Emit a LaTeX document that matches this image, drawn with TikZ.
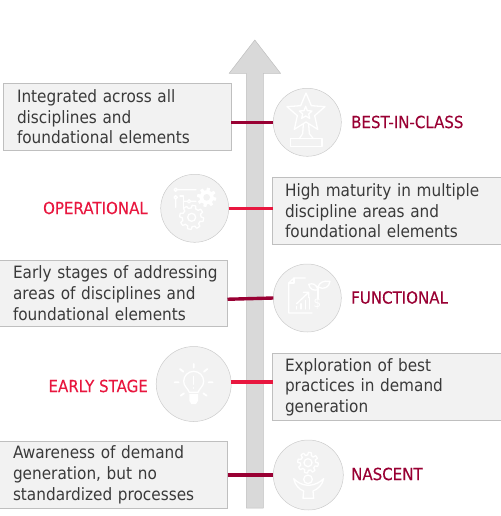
\documentclass[tikz,border=0pt]{standalone}
\usepackage{fontspec}
\setmainfont[FakeStretch=0.9]{DejaVu Sans}
\newfontfamily\stagefont[FakeStretch=0.9,FakeBold=0.25]{DejaVu Sans}
\definecolor{txt}{HTML}{3A3A3A}
\definecolor{dark}{HTML}{990033}
\definecolor{bright}{HTML}{E8173F}
\definecolor{pale}{HTML}{F2F2F2}
\definecolor{edge}{HTML}{BFBFBF}
\definecolor{shaft}{HTML}{D9D9D9}
\tikzset{
  infobox/.style={draw=edge,line width=0.8pt,fill=pale,text=txt,anchor=north west,
    minimum height=66.5pt,outer sep=0pt,inner ysep=0pt,inner xsep=0pt,align=left,
    font=\fontsize{17}{20.6}\selectfont},
  disc/.style={circle,draw=edge!80,line width=0.5pt,fill=pale,inner sep=0pt,outer sep=0pt},
  stage/.style={anchor=west,inner sep=0pt,font=\stagefont\fontsize{16.7}{18}\selectfont},
  link/.style={line width=3.4pt},
  icon/.style={draw=white,line width=1.3pt,line join=round,line cap=round},
  iconfill/.style={fill=white,draw=none},
}
% centre x, centre y, radius, tooth height, teeth, style
\newcommand{\gearshape}[6]{\path[#6] plot[samples=145,domain=0:360]
  ({#1+(#3+#4*max(-1,min(1,3*sin(#5*\x))))*cos(\x)},{#2+(#3+#4*max(-1,min(1,3*sin(#5*\x))))*sin(\x)}) -- cycle;}
\begin{document}
\begin{tikzpicture}[x=1pt,y=-1pt]
\useasboundingbox (0,0) rectangle (500,516);
% growth arrow
\path[fill=shaft,draw=edge,line width=0.5pt,line join=round]
  (246.3,508) -- (246.3,73.5) -- (229,73.5) -- (254.8,40) -- (280.7,73.5) -- (263.3,73.5) -- (263.3,508) -- cycle;
% text boxes
\node[infobox,minimum width=227.5pt,text width=227.5pt] (b1) at (3.5,83.5)
  {\hspace*{13.5pt}\parbox[c]{212pt}{Integrated across all\\disciplines and\\foundational elements}};
\node[infobox,minimum width=230pt,text width=230pt] (b2) at (272.5,177.7)
  {\hspace*{12.5pt}\parbox[c]{214pt}{High maturity in multiple\\discipline areas and\\foundational elements}};
\node[infobox,minimum width=228.5pt,text width=228.5pt] (b3) at (-1,260)
  {\hspace*{14pt}\parbox[c]{212pt}{Early stages of addressing\\areas of disciplines and\\foundational elements}};
\node[infobox,minimum width=230pt,text width=230pt] (b4) at (272.5,353.7)
  {\hspace*{12.5pt}\parbox[c]{214pt}{Exploration of best\\practices in demand\\generation}};
\node[infobox,minimum width=228.5pt,text width=228.5pt] (b5) at (-1,441.5)
  {\hspace*{14pt}\parbox[c]{212pt}{Awareness of demand\\generation, but no\\standardized processes}};
% discs
\node[disc,minimum size=68pt] (c1) at (307.3,122.3) {};
\node[disc,minimum size=68pt] (c2) at (194.7,208.3) {};
\node[disc,minimum size=68pt] (c3) at (307.3,298) {};
\node[disc,minimum size=75pt] (c4) at (193.7,384) {};
\node[disc,minimum size=70pt] (c5) at (308.3,475) {};
% connectors
\draw[link,dark] (b1.east |- c1.west) -- (c1.west);
\draw[link,bright] (c2.east) -- (b2.west |- c2.east);
\draw[link,dark] ([yshift=-6pt]b3.east) -- (c3.west);
\draw[link,bright] ([xshift=-0.5pt,yshift=2pt]c4.east) -- ([yshift=2pt]b4.west |- c4.east);
\draw[link,dark] (b5.east |- c5.west) -- (c5.west);
% stage labels
\node[stage,text=dark] (l1) at (351,122) {BEST-IN-CLASS};
\node[stage,text=bright,anchor=east] (l2) at (148,208) {OPERATIONAL};
\node[stage,text=dark] (l3) at (351,297.5) {FUNCTIONAL};
\node[stage,text=bright,anchor=east] (l4) at (148,386) {EARLY STAGE};
\node[stage,text=dark] (l5) at (351,474) {NASCENT};
% trophy
\begin{scope}[shift={(272,87)},scale=1/3]
  \draw[icon] (102,18)--(118,56)--(159,59)--(128,86)--(137,127)--(102,105)--(67,127)--(76,86)--(45,59)--(86,56)--cycle;
  \draw[icon] (101,58)--(106,71)--(120,72)--(110,81)--(113,94)--(101,87)--(89,94)--(92,81)--(82,72)--(96,71)--cycle;
  \draw[icon] (94,112)--(92,140)--(82,155) (110,112)--(112,140)--(124,155);
  \draw[icon] (55,155) rectangle (150,178);
\end{scope}
% gears and circuit
\begin{scope}[shift={(160,174)},scale=1/3]
  \gearshape{140}{70}{25}{4}{8}{iconfill}
  \fill[pale] (140,70) circle (10);
  \gearshape{95}{130}{32}{4}{8}{icon}
  \draw[icon] (95,130) circle (12);
  \draw[icon] (47,47) circle (5) (52,47)--(108,47);
  \draw[icon] (47,70) circle (5) (47,75)--(47,100);
  \draw[icon] (87,82) circle (5) (92,82)--(108,82) (82,82)--(70,82);
  \draw[icon] (60,66)--(70,66)--(70,104);
\end{scope}
% growth document
\begin{scope}[shift={(272,263)},scale=1/3]
  \draw[icon] (100,45)--(66,45)--(50,60)--(50,150)--(120,150);
  \draw[icon] (66,45)--(66,60)--(50,60);
  \draw[icon] (74,122)--(110,88) (94,88)--(110,88)--(110,104);
  \draw[icon] (74,138)--(74,130) (87,138)--(87,122) (100,138)--(100,112) (113,138)--(113,104);
  \draw[icon] (138,108)--(138,70);
  \draw[icon] (138,80) .. controls (132,62) and (122,60) .. (110,64) .. controls (114,80) and (126,84) .. (138,80);
  \draw[icon] (138,72) .. controls (142,58) and (155,52) .. (174,55) .. controls (172,72) and (156,82) .. (138,72);
  \node[text=white,inner sep=0pt,font=\fontsize{13}{13}\selectfont] (dollar) at (136,123) {\$};
\end{scope}
% light bulb
\begin{scope}[shift={(158,349)},scale=1/3]
  \draw[icon] (94,130) .. controls (90,118) and (77,112) .. (77,97) arc[start angle=180,end angle=360,radius=30] .. controls (137,112) and (124,118) .. (120,130) -- cycle;
  \path[iconfill] (94,135) -- (120,135) -- (120,155) -- (114,165) -- (100,165) -- (94,155) -- cycle;
  \draw[icon] (107,82)--(107,106) (107,116)--(107,118);
  \draw[icon,line width=1.8pt] (107,45)--(107,56) (66,60)--(76,68) (148,60)--(138,68) (50,100)--(62,100) (152,100)--(164,100) (68,140)--(78,133) (146,140)--(136,133);
\end{scope}
% hands and gear
\begin{scope}[shift={(273,440)},scale=1/3]
  \gearshape{105}{68}{27}{4}{8}{icon}
  \draw[icon] (105,68) circle (12);
  \draw[icon] (105,118) circle (13);
  \draw[icon] (62,116) .. controls (66,135) and (78,148) .. (92,153) -- (90,175) -- (122,175) -- (120,153) .. controls (134,148) and (148,135) .. (152,116) .. controls (142,125) and (130,135) .. (105,136) .. controls (84,135) and (72,125) .. (62,116) -- cycle;
\end{scope}
\end{tikzpicture}
\end{document}
